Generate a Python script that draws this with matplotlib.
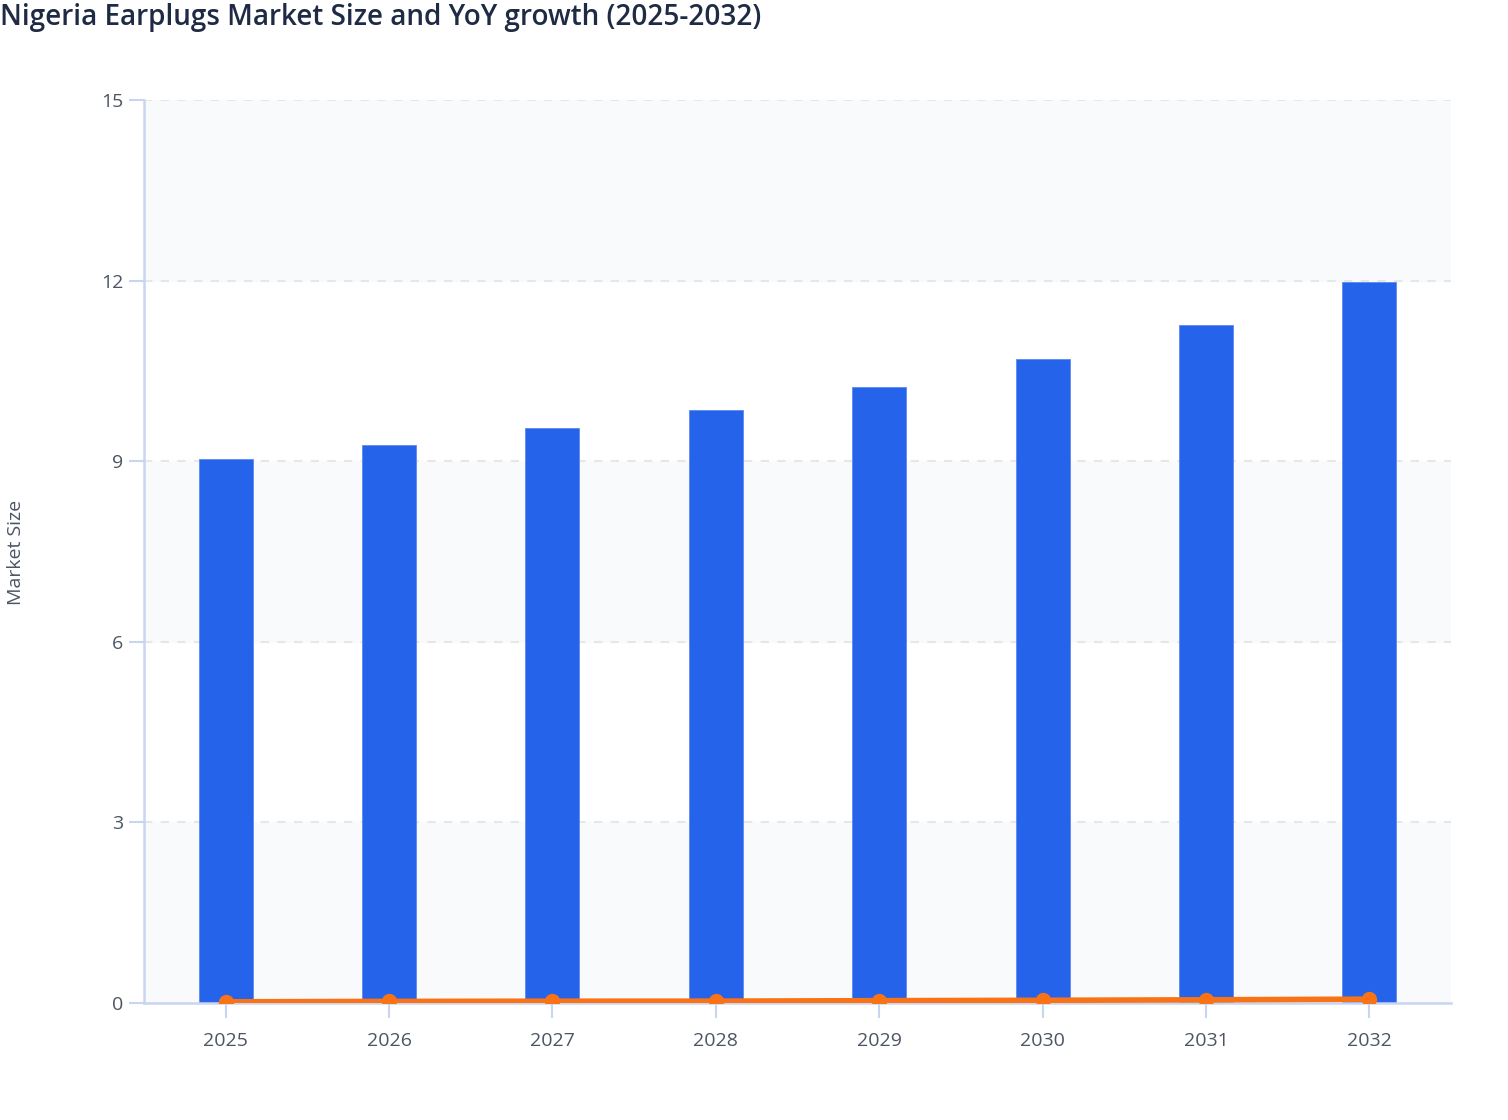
import matplotlib
matplotlib.use('Agg')
import matplotlib.pyplot as plt
import numpy as np

years = ['2025', '2026', '2027', '2028', '2029', '2030', '2031', '2032']
market_size = [9.03, 9.27, 9.55, 9.85, 10.23, 10.69, 11.26, 11.98]
yoy_growth = [0.02, 0.027, 0.030, 0.031, 0.039, 0.045, 0.053, 0.064]
y_ticks = [0, 3, 6, 9, 12, 15]

plt.rcParams['font.family'] = ['Open Sans', 'DejaVu Sans']

fig = plt.figure(figsize=(15.08, 11.2), dpi=100)
ax = fig.add_axes([144 / 1508, 1 - 1003 / 1120, (1451 - 144) / 1508, (1003 - 100) / 1120])

x = np.arange(len(years))

# alternating bands
for i in range(0, len(y_ticks) - 1, 2):
    ax.axhspan(y_ticks[i], y_ticks[i + 1], color='#F8FAFC', zorder=0)
for t in y_ticks[1:]:
    ax.axhline(t, color='#E5E7EB', lw=1.5, ls=(0, (4, 4)), zorder=1)

ax.bar(x, market_size, width=0.33, color='#2563EB', edgecolor='#5B8AF0', linewidth=0.6, zorder=2)
ax.plot(x, yoy_growth, color='#F97316', lw=4, marker='o', markersize=10, zorder=3)

ax.set_xlim(-0.5, len(years) - 0.5)
ax.set_ylim(0, 15)
ax.set_xticks(x)
ax.set_xticklabels(years)
ax.set_yticks(y_ticks)

for side in ['top', 'right']:
    ax.spines[side].set_visible(False)
for side in ['left', 'bottom']:
    ax.spines[side].set_color('#C9D5F0')
    ax.spines[side].set_linewidth(1.8)

ax.tick_params(axis='both', colors='#C9D5F0', length=11, width=1.5, labelsize=14, labelcolor='#4B5563')
ax.tick_params(axis='x', pad=10)
ax.tick_params(axis='y', pad=4)

fig.text(16 / 1508, 1 - 552 / 1120, 'Market Size', fontsize=14, color='#4B5563',
         rotation=90, ha='center', va='center')

fig.text(0.0, 1 - 18 / 1120, 'Nigeria Earplugs Market Size and YoY growth (2025-2032)',
         fontsize=20.1, fontweight='semibold', color='#1F2A44', ha='left', va='center')

fig.savefig('out.png', dpi=100, facecolor='white')
